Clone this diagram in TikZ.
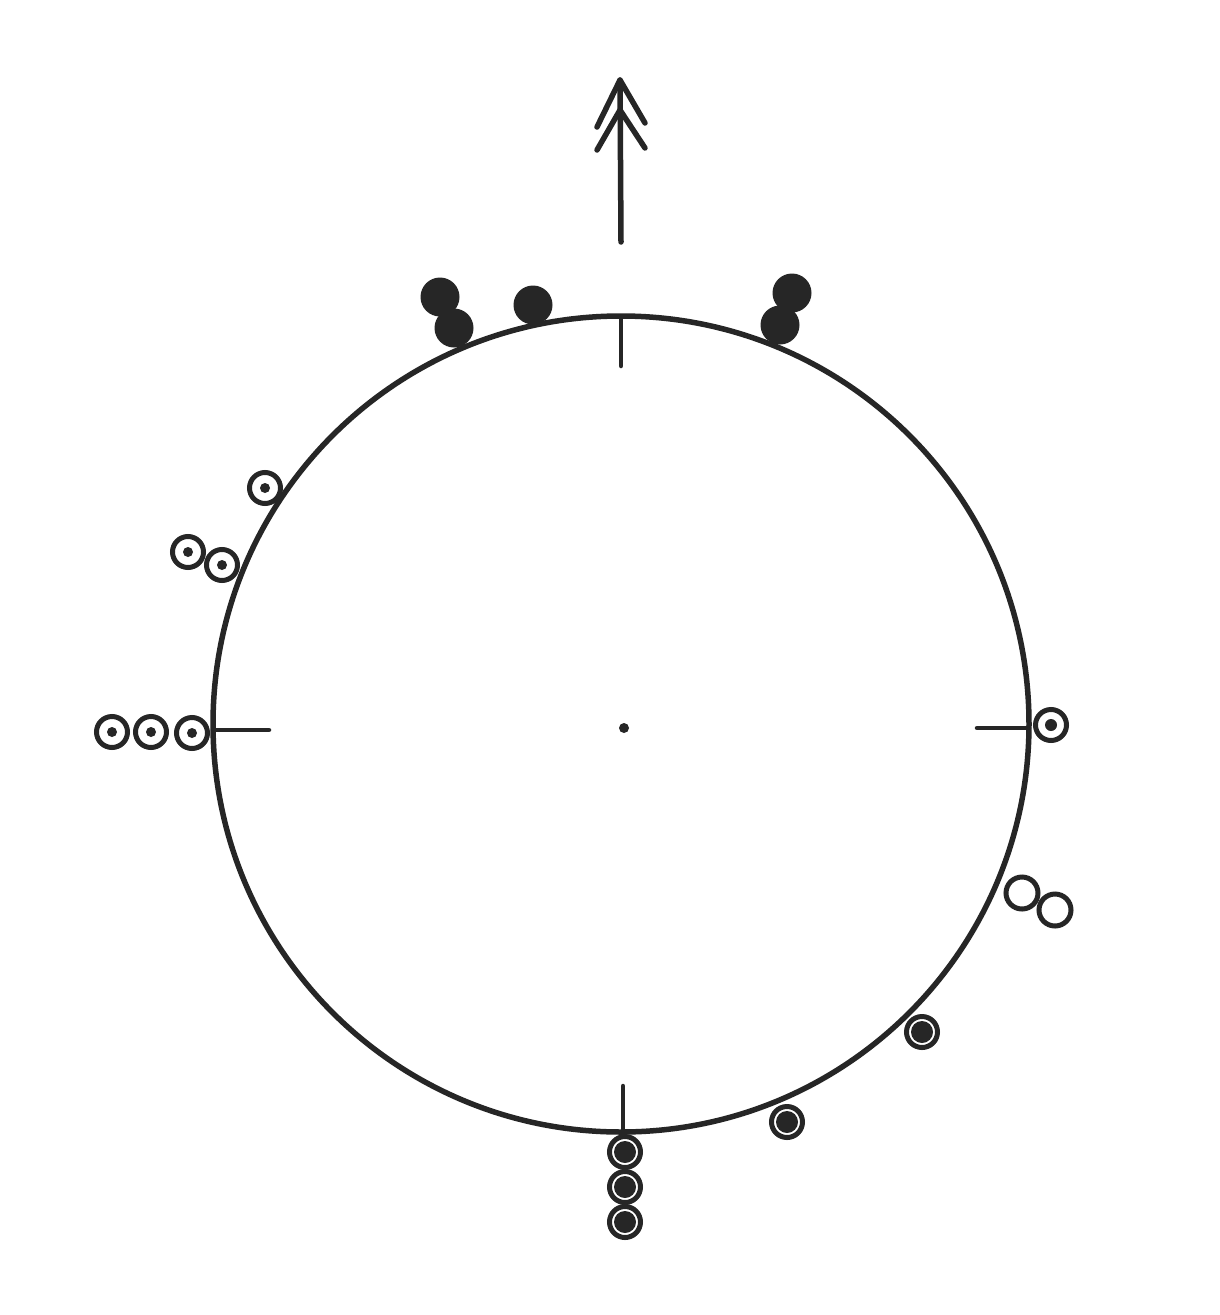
\documentclass[tikz,border=0pt]{standalone}
\begin{document}
\begin{tikzpicture}[x=1pt,y=-1pt,line cap=round,
  ln/.style={line width=5.5pt,black!85},
  tick/.style={line width=4.5pt,black!85},
  ringdot/.style={draw=black!85,line width=5pt,fill=white},
]
\useasboundingbox (0,0) rectangle (1220,1315);
\fill[white] (0,0) rectangle (1220,1315);
\coordinate (c) at (621,724);
% main circle
\draw[ln] (c) circle[radius=408];
\fill[black!85] (624,728) circle[radius=5];
% ticks
\draw[tick] (621,318) -- (621,366);
\draw[tick] (213,730) -- (269,730);
\draw[tick] (977,728) -- (1029,728);
\draw[tick] (623,1086) -- (623,1130);
% arrow
\draw[ln] (621,242) -- (620,80);
\draw[ln,line join=round] (597,127) -- (620,80) -- (645,123);
\draw[ln,line join=round] (597,150) -- (620,110) -- (645,148);
% filled dots at top
\foreach \p in {(440,297),(454,328),(533,305),(792,293),(780,325)}
  \fill[black!85] \p circle[radius=19.5];
% ringed small-dot symbols
\foreach \p in {(265,488),(188,552),(222,565),(112,732),(151,732),(192,733)}{
  \draw[ringdot] \p circle[radius=15.5];
  \fill[black!85] \p circle[radius=5];
}
\draw[ringdot] (1051,725) circle[radius=15.5];
\fill[black!85] (1051,725) circle[radius=6];
% open circles
\draw[ringdot] (1022,893) circle[radius=16];
\draw[ringdot] (1055,910) circle[radius=16];
% ringed big-dot symbols
\foreach \p in {(922,1032),(787,1122),(625,1152),(625,1187),(625,1222)}{
  \draw[ringdot] \p circle[radius=15.5];
  \fill[black!85] \p circle[radius=11];
}
\end{tikzpicture}
\end{document}
